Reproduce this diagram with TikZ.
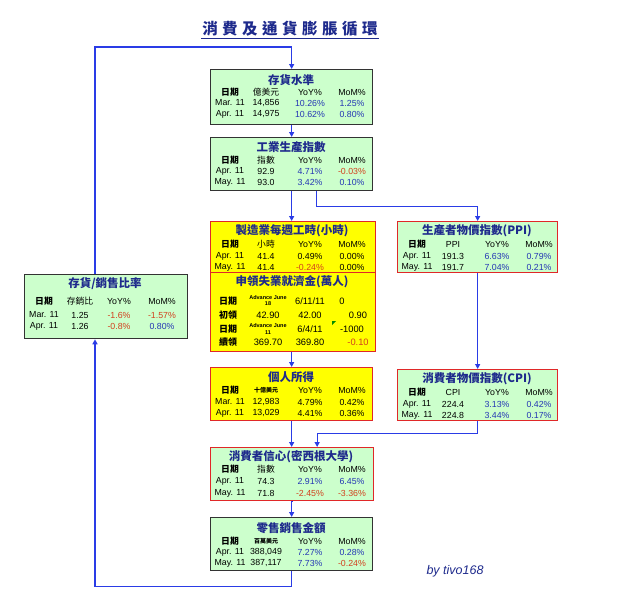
\documentclass[tikz,border=0pt]{standalone}
\usepackage{fontspec}
\setmainfont{Liberation Sans}
\newfontfamily\cjk{Noto Sans CJK TC}
\usetikzlibrary{arrows.meta}
\definecolor{boxgreen}{HTML}{CCFFCC}
\definecolor{boxyellow}{HTML}{FFFF00}
\definecolor{boxred}{HTML}{E02828}
\definecolor{linkblue}{HTML}{2A3CE6}
\definecolor{navy}{HTML}{1E2A8C}
\definecolor{valblue}{HTML}{2436B4}
\definecolor{valred}{HTML}{D2401E}
\newcommand\up[1]{\textcolor{valblue}{#1}}
\newcommand\dn[1]{\textcolor{valred}{#1}}
\newcommand\cA{20}\newcommand\cB{56}\newcommand\cC{100}\newcommand\cD{142}
% one row of four cells inside a box scope
\newcommand\cells[6]{%
  \node[cell] (#1-a) at (\cA,#2) {#3};
  \node[cell] (#1-b) at (\cB,#2) {#4};
  \node[cell] (#1-c) at (\cC,#2) {#5};
  \node[cell] (#1-d) at (\cD,#2) {#6};}
\begin{document}
\begin{tikzpicture}[x=1pt,y=-1pt,
    box/.style={draw=black!80,line width=1.3pt,inner sep=0,anchor=north west,
                minimum width=162pt,minimum height=53pt},
    gbox/.style={box,fill=boxgreen},
    rbox/.style={box,fill=boxgreen,draw=boxred},
    ybox/.style={box,fill=boxyellow,draw=boxred},
    btitle/.style={font=\cjk\bfseries\fontsize{11.5}{12}\selectfont,text=navy,inner sep=0},
    cell/.style={font=\fontsize{8.8}{9}\selectfont,inner sep=0},
    hz/.style={font=\cjk\bfseries\fontsize{9}{10}\selectfont,inner sep=0},
    tiny/.style={font=\bfseries\fontsize{5.5}{6}\selectfont,inner sep=0,align=center},
    link/.style={draw=linkblue,line width=1.3pt,-{Triangle[length=5pt,width=5pt]}}]
 \path[use as bounding box] (0,0) rectangle (640,598);
 % title
 \node[font=\cjk\bfseries\fontsize{15.5}{16}\selectfont,text=navy,inner sep=1pt] (title) at (290,29)
   {消\hspace{4.5pt}費\hspace{4.5pt}及\hspace{4.5pt}通\hspace{4.5pt}貨\hspace{4.5pt}膨\hspace{4.5pt}脹\hspace{4.5pt}循\hspace{4.5pt}環};
 \draw[navy,line width=1pt] ([yshift=-1pt]title.south west) -- ([yshift=-1pt]title.south east);
 % boxes
 \node[gbox,minimum height=55pt] (inv) at (210,69) {};
 \node[gbox] (ip) at (210,137) {};
 \node[ybox,minimum width=165pt,minimum height=51pt] (hrs) at (210,221) {};
 \node[ybox,minimum width=165pt,minimum height=79pt] (clm) at (210,272) {};
 \node[rbox,minimum width=160pt,minimum height=51pt] (ppi) at (397,221) {};
 \node[gbox,minimum width=163pt,minimum height=64pt] (isr) at (24,274) {};
 \node[ybox] (inc) at (210,367) {};
 \node[rbox,minimum width=160pt,minimum height=51pt] (cpi) at (397,369) {};
 \node[rbox,minimum width=163pt] (sent) at (210,447) {};
 \node[gbox] (ret) at (210,517) {};
 % 存貨水準
 \begin{scope}[shift={(inv.north west)}]
  \node[btitle] (inv-t) at (81,11) {存貨水準};
  \cells{inv-h}{23}{\cjk\bfseries 日期}{\cjk 億美元}{YoY\%}{MoM\%}
  \cells{inv-1}{34}{Mar. 11}{14,856}{\up{10.26\%}}{\up{1.25\%}}
  \cells{inv-2}{45}{Apr. 11}{14,975}{\up{10.62\%}}{\up{0.80\%}}
 \end{scope}
 % 工業生產指數
 \begin{scope}[shift={(ip.north west)}]
  \node[btitle] (ip-t) at (81,10) {工業生產指數};
  \cells{ip-h}{23}{\cjk\bfseries 日期}{\cjk 指數}{YoY\%}{MoM\%}
  \cells{ip-1}{34}{Apr. 11}{92.9}{\up{4.71\%}}{\dn{-0.03\%}}
  \cells{ip-2}{45}{May. 11}{93.0}{\up{3.42\%}}{\up{0.10\%}}
 \end{scope}
 % 製造業每週工時
 \begin{scope}[shift={(hrs.north west)}]
  \node[btitle] (hrs-t) at (82,10) {製造業每週工時(小時)};
  \cells{hrs-h}{23}{\cjk\bfseries 日期}{\cjk 小時}{YoY\%}{MoM\%}
  \cells{hrs-1}{35}{Apr. 11}{41.4}{0.49\%}{0.00\%}
  \cells{hrs-2}{46}{May. 11}{41.4}{\dn{-0.24\%}}{0.00\%}
 \end{scope}
 % 申領失業就濟金
 \begin{scope}[shift={(clm.north west)}]
  \node[btitle] (clm-t) at (82,10) {申領失業就濟金(萬人)};
  \node[hz] (clm-a1) at (18,29) {日期};
  \node[tiny] (clm-b1) at (58,29) {Advance June\\18};
  \node[cell,font=\fontsize{9.3}{10}\selectfont] (clm-c1) at (100,29) {6/11/11};
  \node[cell,font=\fontsize{9.3}{10}\selectfont] (clm-d1) at (132,29) {0};
  \node[hz] (clm-a2) at (18,43) {初領};
  \node[cell,font=\fontsize{9.3}{10}\selectfont] (clm-b2) at (58,43) {42.90};
  \node[cell,font=\fontsize{9.3}{10}\selectfont] (clm-c2) at (100,43) {42.00};
  \node[cell,font=\fontsize{9.3}{10}\selectfont] (clm-d2) at (148,43) {0.90};
  \fill[green!55!black] (122,49) -- (126,49) -- (122,53) -- cycle;
  \node[hz] (clm-a3) at (18,57) {日期};
  \node[tiny] (clm-b3) at (58,57) {Advance June\\11};
  \node[cell,font=\fontsize{9.3}{10}\selectfont] (clm-c3) at (100,57) {6/4/11};
  \node[cell,font=\fontsize{9.3}{10}\selectfont] (clm-d3) at (142,57) {-1000};
  \node[hz] (clm-a4) at (18,70) {續領};
  \node[cell,font=\fontsize{9.3}{10}\selectfont] (clm-b4) at (58,70) {369.70};
  \node[cell,font=\fontsize{9.3}{10}\selectfont] (clm-c4) at (100,70) {369.80};
  \node[cell,font=\fontsize{9.3}{10}\selectfont] (clm-d4) at (148,70) {\dn{-0.10}};
 \end{scope}
 % 生產者物價指數
 \begin{scope}[shift={(ppi.north west)}]
  \node[btitle] (ppi-t) at (80,10) {生產者物價指數(PPI)};
  \cells{ppi-h}{23}{\cjk\bfseries 日期}{PPI}{YoY\%}{MoM\%}
  \cells{ppi-1}{35}{Apr. 11}{191.3}{\up{6.63\%}}{\up{0.79\%}}
  \cells{ppi-2}{46}{May. 11}{191.7}{\up{7.04\%}}{\up{0.21\%}}
 \end{scope}
 % 存貨/銷售比率
 \begin{scope}[shift={(isr.north west)}]
  \renewcommand\cA{20}\renewcommand\cB{56}\renewcommand\cC{95}\renewcommand\cD{138}
  \node[btitle] (isr-t) at (81,10) {存貨/銷售比率};
  \cells{isr-h}{27}{\cjk\bfseries 日期}{\cjk 存銷比}{YoY\%}{MoM\%}
  \cells{isr-1}{41}{Mar. 11}{1.25}{\dn{-1.6\%}}{\dn{-1.57\%}}
  \cells{isr-2}{52}{Apr. 11}{1.26}{\dn{-0.8\%}}{\up{0.80\%}}
 \end{scope}
 % 個人所得
 \begin{scope}[shift={(inc.north west)}]
  \node[btitle] (inc-t) at (81,10) {個人所得};
  \cells{inc-h}{23}{\cjk\bfseries 日期}{\cjk\bfseries\fontsize{6}{7}\selectfont 十億美元}{YoY\%}{MoM\%}
  \cells{inc-1}{35}{Mar. 11}{12,983}{4.79\%}{0.42\%}
  \cells{inc-2}{46}{Apr. 11}{13,029}{4.41\%}{0.36\%}
 \end{scope}
 % 消費者物價指數
 \begin{scope}[shift={(cpi.north west)}]
  \node[btitle] (cpi-t) at (80,10) {消費者物價指數(CPI)};
  \cells{cpi-h}{23}{\cjk\bfseries 日期}{CPI}{YoY\%}{MoM\%}
  \cells{cpi-1}{35}{Apr. 11}{224.4}{\up{3.13\%}}{\up{0.42\%}}
  \cells{cpi-2}{46}{May. 11}{224.8}{\up{3.44\%}}{\up{0.17\%}}
 \end{scope}
 % 消費者信心
 \begin{scope}[shift={(sent.north west)}]
  \node[btitle] (sent-t) at (81,10) {消費者信心(密西根大學)};
  \cells{sent-h}{22}{\cjk\bfseries 日期}{\cjk 指數}{YoY\%}{MoM\%}
  \cells{sent-1}{34}{Apr. 11}{74.3}{\up{2.91\%}}{\up{6.45\%}}
  \cells{sent-2}{46}{May. 11}{71.8}{\dn{-2.45\%}}{\dn{-3.36\%}}
 \end{scope}
 % 零售銷售金額
 \begin{scope}[shift={(ret.north west)}]
  \node[btitle] (ret-t) at (81,11) {零售銷售金額};
  \cells{ret-h}{24}{\cjk\bfseries 日期}{\cjk\bfseries\fontsize{6}{7}\selectfont 百萬美元}{YoY\%}{MoM\%}
  \cells{ret-1}{35}{Apr. 11}{388,049}{\up{7.27\%}}{\up{0.28\%}}
  \cells{ret-2}{46}{May. 11}{387,117}{\up{7.73\%}}{\dn{-0.24\%}}
 \end{scope}
 % connectors
 \draw[link] ([xshift=71pt]isr.north west) |- ([yshift=22pt]inv.north) -- (inv.north);
 \draw[link] (inv.south) -- (inv.south |- ip.north);
 \draw[link] (ip.south) -- (ip.south |- hrs.north);
 \draw[link] ([xshift=25pt]ip.south) -- ++(0,15) -| (ppi.north);
 \draw[link] (inc.north |- clm.south) -- (inc.north);
 \draw[link] (ppi.south) -- (cpi.north);
 \draw[link] (inc.south) -- (inc.south |- sent.north);
 \draw[link] (cpi.south) -- ++(0,12) -| ([xshift=25pt]sent.north);
 \draw[link] (sent.south) -- (sent.south -| ret.north) -- (ret.north);
 \draw[link] (ret.south) -- ++(0,15) -| ([xshift=71pt]isr.south west);
 % signature
 \node[font=\itshape\fontsize{12.5}{13}\selectfont,text=navy,inner sep=0] (sig) at (455,571) {by tivo168};
\end{tikzpicture}
\end{document}
